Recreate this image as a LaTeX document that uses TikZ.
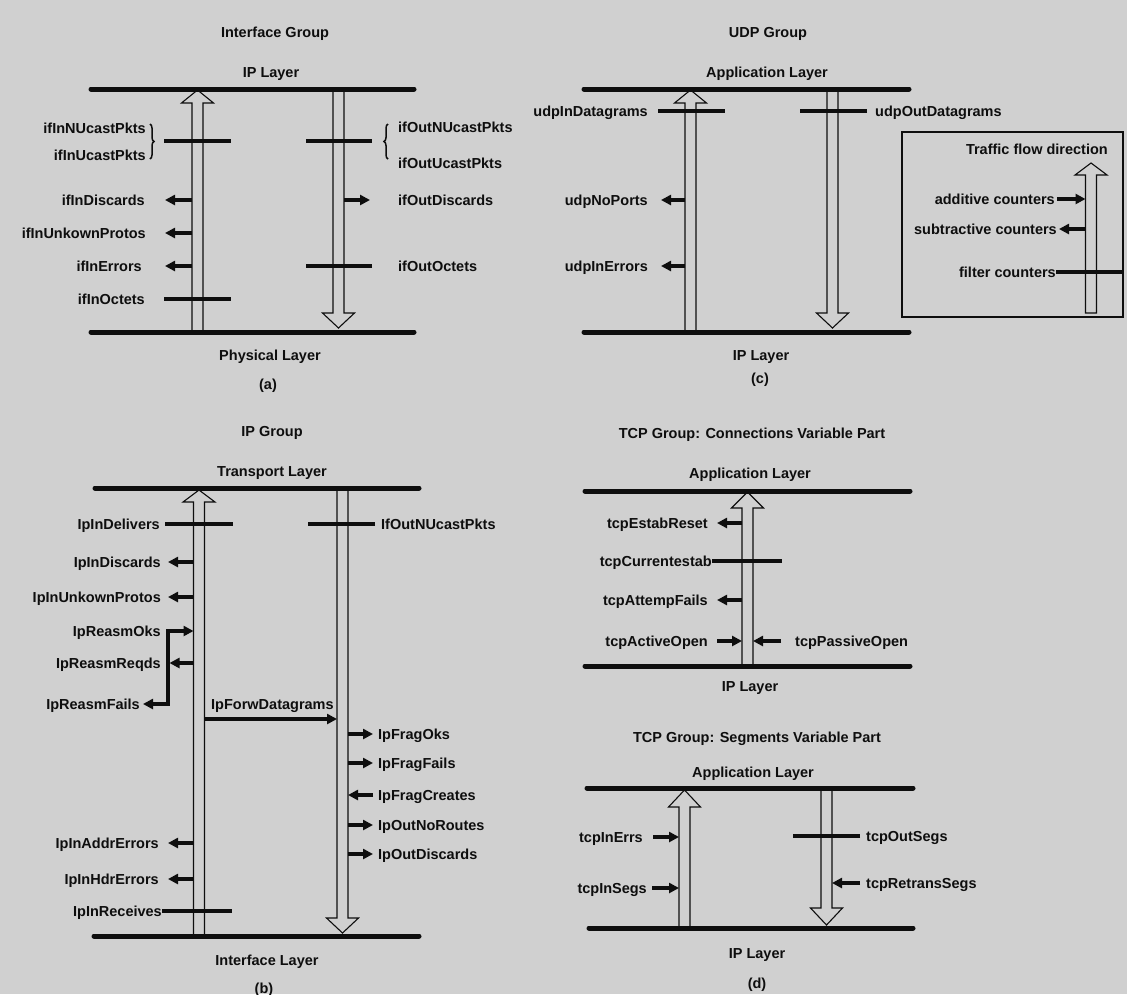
\documentclass[tikz,border=0pt]{standalone}
\usepackage{fontspec}
\setmainfont{Liberation Sans}
\usetikzlibrary{arrows.meta,decorations.pathreplacing}

\definecolor{paper}{RGB}{208,208,208}
\definecolor{ink}{RGB}{14,14,14}

\tikzset{
  lbl/.style={font=\bfseries\fontsize{14.5}{16}\selectfont, text=ink,
              inner sep=0pt, text height=10.4pt, text depth=0pt},
  layer/.style={draw=ink, line width=5pt, line cap=round},
  flow/.style={draw=ink, line width=1.1pt, fill=paper, line join=miter},
  ctr/.style={draw=ink, line width=3.3pt, line join=miter},
  tip/.style={-{Triangle[length=10pt,width=10pt]}},
  bracefig/.style={draw=ink, line width=1.5pt, decorate,
                   decoration={brace, amplitude=4pt}},
  legendbox/.style={draw=ink, line width=1.1pt},
}

% hollow traffic arrows: centre x, tip y, foot y, head depth
\newcommand\flowup[4]{%
  \draw[flow] ({#1-5.5},#3) -- ({#1-5.5},{#2+#4}) -- ({#1-16},{#2+#4}) -- (#1,#2)
    -- ({#1+16},{#2+#4}) -- ({#1+5.5},{#2+#4}) -- ({#1+5.5},#3);}
% centre x, top y, tip y, head depth
\newcommand\flowdown[4]{%
  \draw[flow] ({#1-5.5},#2) -- ({#1-5.5},{#3-#4}) -- ({#1-16},{#3-#4}) -- (#1,#3)
    -- ({#1+16},{#3-#4}) -- ({#1+5.5},{#3-#4}) -- ({#1+5.5},#2);}

% counters: name, text, label x, y, shaft (or far) x, near end x
\newcommand\ctrOutL[6]{%
  \node[lbl,anchor=east] (#1) at (#3,#4) {#2};
  \coordinate (#1-at) at (#5,#4);
  \draw[ctr,tip,shorten >={#6-#3}] (#1-at) -- (#1.east);}
\newcommand\ctrOutR[6]{%
  \node[lbl,anchor=west] (#1) at (#3,#4) {#2};
  \coordinate (#1-at) at (#5,#4);
  \draw[ctr,tip,shorten >={#3-#6}] (#1-at) -- (#1.west);}
\newcommand\ctrInL[6]{%
  \node[lbl,anchor=east] (#1) at (#3,#4) {#2};
  \coordinate (#1-at) at (#5,#4);
  \draw[ctr,tip,shorten <={#6-#3}] (#1.east) -- (#1-at);}
\newcommand\ctrInR[6]{%
  \node[lbl,anchor=west] (#1) at (#3,#4) {#2};
  \coordinate (#1-at) at (#5,#4);
  \draw[ctr,tip,shorten <={#3-#6}] (#1.west) -- (#1-at);}
\newcommand\ctrFiltL[6]{%
  \node[lbl,anchor=east] (#1) at (#3,#4) {#2};
  \coordinate (#1-at) at (#5,#4);
  \draw[ctr,shorten <={#6-#3}] (#1.east) -- (#1-at);}
\newcommand\ctrFiltR[6]{%
  \node[lbl,anchor=west] (#1) at (#3,#4) {#2};
  \coordinate (#1-at) at (#5,#4);
  \draw[ctr,shorten <={#3-#6}] (#1.west) -- (#1-at);}

\begin{document}
\begin{tikzpicture}[x=1pt,y=-1pt]
\fill[paper] (0,0) rectangle (1127,994);
\useasboundingbox (0,0) rectangle (1127,994);

% ---------------- (a) Interface group ----------------
\node[lbl] (aTitle) at (275,32) {Interface Group};
\node[lbl] (aTop) at (271,72) {IP Layer};
\node[lbl] (aBot) at (270,355) {Physical Layer};
\node[lbl] (aTag) at (268,384) {(a)};
\flowup{197.5}{90}{332}{13}
\flowdown{338.5}{89}{328}{15}
\draw[layer] (91,89) -- (414,89);
\draw[layer] (91,332) -- (414,332);

\node[lbl,anchor=east] (aInNU) at (146,128) {ifInNUcastPkts};
\node[lbl,anchor=east] (aInU) at (146,155) {ifInUcastPkts};
\draw[bracefig] (150,124) -- (150,159);
\coordinate (aInPktL) at (164,141);
\coordinate (aInPktR) at (231,141);
\draw[ctr] (aInPktL) -- (aInPktR);
\ctrOutL{aInDisc}{ifInDiscards}{145}{200}{192}{165}
\ctrOutL{aInUnk}{ifInUnkownProtos}{146}{233}{192}{165}
\ctrOutL{aInErr}{ifInErrors}{142}{266}{192}{165}
\ctrFiltL{aInOct}{ifInOctets}{145}{299}{231}{164}

\coordinate (aOutPktL) at (306,141);
\coordinate (aOutPktR) at (372,141);
\draw[ctr] (aOutPktL) -- (aOutPktR);
\draw[bracefig] (388,159) -- (388,124);
\node[lbl,anchor=west] (aOutNU) at (398,127) {ifOutNUcastPkts};
\node[lbl,anchor=west] (aOutU) at (398,163) {ifOutUcastPkts};
\ctrOutR{aOutDisc}{ifOutDiscards}{398}{200}{344}{370}
\ctrFiltR{aOutOct}{ifOutOctets}{398}{266}{306}{372}

% ---------------- (b) IP group ----------------
\node[lbl] (bTitle) at (272,431) {IP Group};
\node[lbl] (bTop) at (272,471) {Transport Layer};
\node[lbl] (bBot) at (267,960) {Interface Layer};
\node[lbl] (bTag) at (264,988) {(b)};
\flowup{199}{490}{936}{12}
\flowdown{342.5}{488}{933}{15}
\draw[layer] (95,488) -- (419,488);
\draw[layer] (94,936) -- (419,936);

\ctrFiltL{bInDel}{IpInDelivers}{160}{524}{233}{165}
\ctrOutL{bInDisc}{IpInDiscards}{161}{562}{193.5}{168}
\ctrOutL{bInUnk}{IpInUnkownProtos}{161}{597}{193.5}{168}
\node[lbl,anchor=east] (bReasmOk) at (161,631) {IpReasmOks};
\node[lbl,anchor=east] (bReasmFail) at (140,704) {IpReasmFails};
\coordinate (bReasmTop) at (168,631);
\coordinate (bReasmBot) at (168,704);
\coordinate (bReasmIn) at (193.5,631);
\draw[ctr,{Triangle[length=10pt,width=10pt]}-{Triangle[length=10pt,width=10pt]},shorten <=3pt]
  (bReasmFail.east) -- (bReasmBot) -- (bReasmTop) -- (bReasmIn);
\ctrOutL{bReasmReq}{IpReasmReqds}{161}{663}{193.5}{169.5}
\ctrOutL{bInAddr}{IpInAddrErrors}{159}{843}{193.5}{168}
\ctrOutL{bInHdr}{IpInHdrErrors}{159}{879}{193.5}{168}
\ctrFiltL{bInRcv}{IpInReceives}{162}{911}{232}{162}

\node[lbl,anchor=west] (bForw) at (211,704) {IpForwDatagrams};
\coordinate (bForwFrom) at (204.5,719);
\coordinate (bForwTo) at (337,719);
\draw[ctr,tip] (bForwFrom) -- (bForwTo);

\ctrFiltR{bOutNU}{IfOutNUcastPkts}{381}{524}{308}{375}
\ctrOutR{bFragOk}{IpFragOks}{378}{734}{348}{373}
\ctrOutR{bFragFail}{IpFragFails}{378}{763}{348}{373}
\ctrInR{bFragCr}{IpFragCreates}{378}{795}{348}{373}
\ctrOutR{bOutNoR}{IpOutNoRoutes}{378}{825}{348}{373}
\ctrOutR{bOutDisc}{IpOutDiscards}{378}{854}{348}{373}

% ---------------- (c) UDP group ----------------
\node[lbl] (cTitle) at (768,32) {UDP Group};
\node[lbl] (cTop) at (767,72) {Application Layer};
\node[lbl] (cBot) at (761,355) {IP Layer};
\node[lbl] (cTag) at (760,378) {(c)};
\flowup{690.5}{90}{332}{13}
\flowdown{832.5}{89}{328}{15}
\draw[layer] (584,89) -- (909,89);
\draw[layer] (584,332) -- (909,332);

\ctrFiltL{cInDg}{udpInDatagrams}{648}{111}{725}{658}
\ctrFiltR{cOutDg}{udpOutDatagrams}{875}{111}{800}{867}
\ctrOutL{cNoPorts}{udpNoPorts}{648}{200}{685}{661}
\ctrOutL{cInErr}{udpInErrors}{648}{266}{685}{661}

% legend
\draw[legendbox] (902,132) rectangle (1123,317);
\node[lbl,anchor=east] (legTitle) at (1108,149) {Traffic flow direction};
\draw[flow] (1085.5,313) -- (1085.5,175) -- (1075,175) -- (1091,163) -- (1107,175)
  -- (1096.5,175) -- (1096.5,313) -- cycle;
\ctrInL{legAdd}{additive counters}{1055}{199}{1085.5}{1057}
\ctrOutL{legSub}{subtractive counters}{1057}{229}{1085.5}{1059}
\ctrFiltL{legFilt}{filter counters}{1056}{272}{1123}{1056}

% ---------------- TCP connections ----------------
\node[lbl] (tTitle) at (752,433) {TCP Group: Connections Variable Part};
\node[lbl] (tTop) at (750,473) {Application Layer};
\node[lbl] (tBot) at (750,686) {IP Layer};
\flowup{747.5}{492}{666}{16}
\draw[layer] (585,491) -- (910,491);
\draw[layer] (585,666) -- (910,666);

\ctrOutL{tEstab}{tcpEstabReset}{708}{523}{742}{717}
\ctrFiltL{tCurr}{tcpCurrentestab}{712}{561}{782}{712}
\ctrOutL{tAttFail}{tcpAttempFails}{708}{600}{742}{717}
\ctrInL{tActive}{tcpActiveOpen}{708}{641}{742}{717}
\ctrInR{tPassive}{tcpPassiveOpen}{795}{641}{753}{781}

% ---------------- (d) TCP segments ----------------
\node[lbl] (dTitle) at (757,737) {TCP Group: Segments Variable Part};
\node[lbl] (dTop) at (753,772) {Application Layer};
\node[lbl] (dBot) at (757,953) {IP Layer};
\node[lbl] (dTag) at (757,983) {(d)};
\flowup{684.5}{790}{928}{17}
\flowdown{826.5}{788}{925}{17}
\draw[layer] (587,788) -- (913,788);
\draw[layer] (589,928) -- (913,928);

\ctrInL{dInErrs}{tcpInErrs}{643}{837}{679}{653}
\ctrInL{dInSegs}{tcpInSegs}{647}{888}{679}{652}
\ctrFiltR{dOutSegs}{tcpOutSegs}{866}{836}{793}{860}
\ctrInR{dRetrans}{tcpRetransSegs}{866}{883}{832}{860}
\end{tikzpicture}
\end{document}
